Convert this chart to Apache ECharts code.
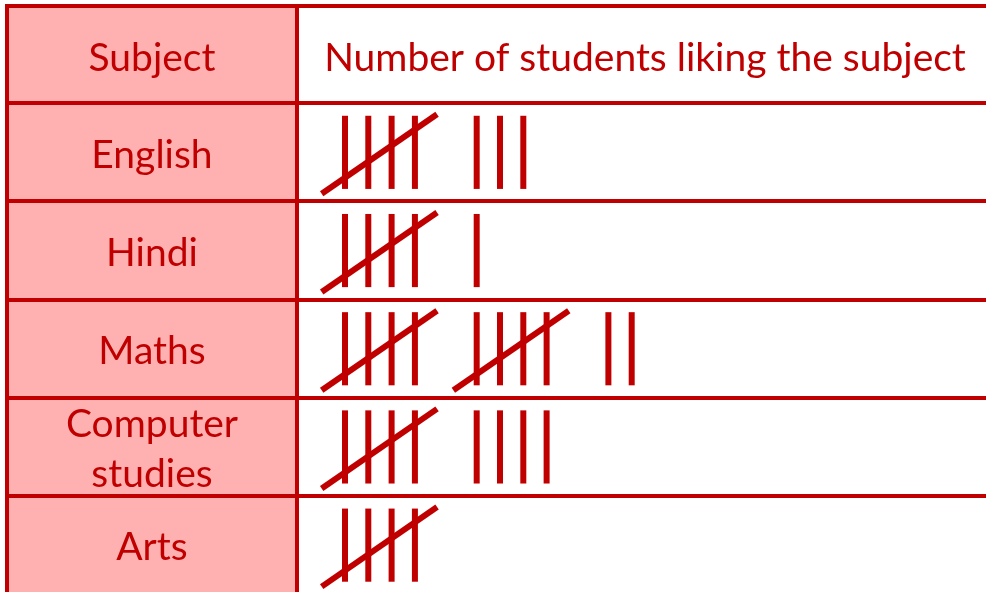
<!DOCTYPE html>
<html>
<head>
<meta charset="utf-8">
<script src="https://cdn.jsdelivr.net/npm/echarts@6/dist/echarts.min.js"></script>
<style>
  html, body { margin: 0; padding: 0; background: #fff; }
  #main { width: 986px; height: 592px; }
</style>
</head>
<body>
<div id="main"></div>
<script>
// tally chart data
const subjects = ['English', 'Hindi', 'Maths', 'Computer studies', 'Arts'];
const tallyCounts = [8, 6, 12, 9, 5];
const headerLabels = ['Subject', 'Number of students liking the subject'];

const RED = '#c00000';
const PINK = '#ffb0b0';
const FONT = 'Lato';
const FONT_SIZE = 39;

// x axis measured in tally strokes
const LABEL_X = 6.22;
const TALLY_START = 14.5;
const GROUP_STEP = 5.65;

const myChart = echarts.init(document.getElementById('main'));

const renderTally = (params, api) => {
    const n = api.value(0);
    const idx = api.value(1);
    const band = api.size([0, 1])[1];
    const yc = api.coord([0, idx])[1];
    const style = { stroke: RED, lineWidth: 6, lineCap: 'butt', fill: null };
    const children = [];
    // subject name in the pink column
    children.push({
        type: 'text',
        x: api.coord([LABEL_X, idx])[0],
        y: yc + 3,
        style: {
            text: subjects[idx].replace(' ', '\n'),
            fill: RED,
            font: FONT_SIZE + 'px ' + FONT,
            lineHeight: 50,
            align: 'center',
            verticalAlign: 'middle'
        }
    });
    for (let i = 0; i < n; i++) {
        const g = Math.floor(i / 5);
        const k = i % 5;
        const base = TALLY_START + g * GROUP_STEP;
        if (k < 4) {
            const x = api.coord([base + k, idx])[0];
            children.push({
                type: 'line',
                shape: { x1: x, y1: yc - band * 0.37, x2: x, y2: yc + band * 0.375 },
                style: style
            });
        } else {
            // the crossing stroke
            const x1 = api.coord([base - 1, idx])[0];
            const x2 = api.coord([base + 3.95, idx])[0];
            children.push({
                type: 'line',
                shape: { x1: x1, y1: yc + band * 0.425, x2: x2, y2: yc - band * 0.385 },
                style: style
            });
        }
    }
    return { type: 'group', children: children };
};

const option = {
    animation: false,
    grid: { left: 7, right: 0, top: 103, bottom: -2, outerBoundsMode: 'none', containLabel: false },
    xAxis: {
        type: 'value',
        min: 0,
        max: 42,
        show: false
    },
    yAxis: {
        type: 'category',
        inverse: true,
        data: subjects,
        z: 5,
        axisLine: { show: false },
        axisTick: { show: false },
        axisLabel: { show: false },
        splitLine: { show: true, lineStyle: { color: RED, width: 4 } }
    },
    graphic: [
        { type: 'rect', z: -10, shape: { x: 7, y: 6, width: 290, height: 586 }, style: { fill: PINK } },
        { type: 'line', z: 10, shape: { x1: 5, y1: 6, x2: 986, y2: 6 }, style: { stroke: RED, lineWidth: 4 } },
        { type: 'line', z: 10, shape: { x1: 7, y1: 4, x2: 7, y2: 592 }, style: { stroke: RED, lineWidth: 4 } },
        { type: 'line', z: 10, shape: { x1: 297, y1: 4, x2: 297, y2: 592 }, style: { stroke: RED, lineWidth: 4 } },
        { type: 'line', z: 10, shape: { x1: 5, y1: 103, x2: 986, y2: 103 }, style: { stroke: RED, lineWidth: 4 } },
        {
            type: 'text', z: 10, x: 152, y: 58,
            style: { text: headerLabels[0], fill: RED, font: FONT_SIZE + 'px ' + FONT, textAlign: 'center', textVerticalAlign: 'middle' }
        },
        {
            type: 'text', z: 10, x: 645, y: 58,
            style: { text: headerLabels[1], fill: RED, font: FONT_SIZE + 'px ' + FONT, textAlign: 'center', textVerticalAlign: 'middle' }
        }
    ],
    series: [{
        type: 'custom',
        renderItem: renderTally,
        encode: { x: 0, y: 1 },
        data: tallyCounts.map((c, i) => [c, i])
    }]
};
myChart.setOption(option);
</script>
</body>
</html>
